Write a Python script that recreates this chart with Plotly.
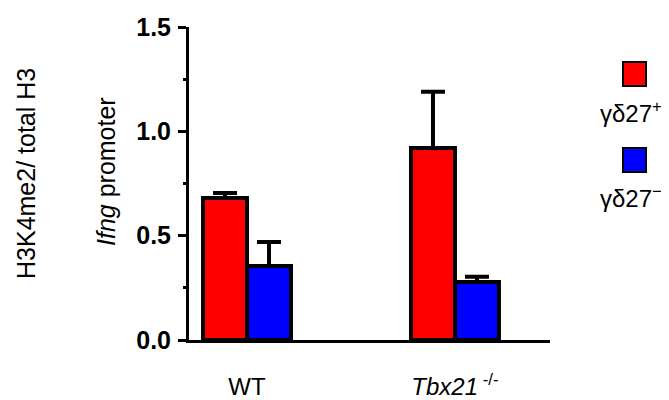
import plotly.graph_objects as go

# ---- data ----
groups = ["WT", "Tbx21"]
group_labels = ["WT", "<i>Tbx21</i><sup> -/-</sup>"]
series_names = ["γδ27<sup>+</sup>", "γδ27<sup>−</sup>"]
pos_values = [0.68, 0.92]
pos_errors = [0.025, 0.27]
neg_values = [0.355, 0.278]
neg_errors = [0.115, 0.025]
colors = ["#ff0000", "#0000ff"]
y_ticks = [0.0, 0.5, 1.0, 1.5]

FONT = "Liberation Sans, Arial, sans-serif"
x_pos = [0, 1]

# page body has an 8px default margin; figure coordinates are offset accordingly
OFF = 8
W, H = 661, 392
L, T = 189 - OFF, 27 - OFF
PW, PH = 361, 313
R = W - L - PW
B = H - T - PH

fig = go.Figure()
for vals, errs, col, name in [(pos_values, pos_errors, colors[0], series_names[0]),
                              (neg_values, neg_errors, colors[1], series_names[1])]:
    fig.add_trace(go.Bar(
        x=x_pos, y=vals, name=name,
        marker=dict(color=col, line=dict(color="black", width=4)),
        error_y=dict(type="data", array=errs, symmetric=False, arrayminus=[0, 0],
                     color="black", thickness=4, width=12),
        showlegend=False,
    ))

fig.update_layout(
    width=W, height=H,
    margin=dict(l=L, r=R, t=T, b=B, autoexpand=False),
    paper_bgcolor="white", plot_bgcolor="white",
    barmode="group", bargap=0.577, bargroupgap=0,
    font=dict(family=FONT, color="black"),
)

fig.update_xaxes(
    range=[-0.279, 1.457], tickvals=x_pos, ticktext=group_labels,
    showline=True, linecolor="black", linewidth=3, ticks="",
    showgrid=False, zeroline=False, automargin=False,
    tickfont=dict(size=24, family=FONT), ticklabelstandoff=23,
)
fig.update_yaxes(
    range=[0, 1.5], tickvals=y_ticks, ticktext=[f"{v:.1f}" for v in y_ticks],
    showline=True, linecolor="black", linewidth=3,
    ticks="outside", ticklen=8, tickwidth=3, tickcolor="black",
    minor=dict(dtick=0.25, ticks="outside", ticklen=3, tickwidth=3, tickcolor="black", showgrid=False),
    showgrid=False, zeroline=False, automargin=False,
    tickfont=dict(size=25, family=FONT, weight="bold"),
    ticklabelstandoff=2,
)

def px_x(px):
    return (px - 189) / 361.0

def px_y(py):
    return (340 - py) / 313.0

# axis titles
fig.add_annotation(xref="paper", yref="paper", x=px_x(26), y=px_y(174),
                   text="H3K4me2/ total H3", textangle=-90, showarrow=False,
                   font=dict(size=25, family=FONT), xanchor="center", yanchor="middle")
fig.add_annotation(xref="paper", yref="paper", x=px_x(106), y=px_y(172),
                   text="<i>Ifng</i> promoter", textangle=-90, showarrow=False,
                   font=dict(size=25, family=FONT), xanchor="center", yanchor="middle")

# custom legend (square above text)
leg_y = [(62, 86, 112), (148, 172, 197)]
for (t, b, ty), col, name in zip(leg_y, colors, series_names):
    fig.add_shape(type="rect", xref="paper", yref="paper",
                  x0=px_x(623), x1=px_x(646), y0=px_y(b), y1=px_y(t),
                  fillcolor=col, line=dict(color="black", width=2))
    fig.add_annotation(xref="paper", yref="paper", x=px_x(631), y=px_y(ty),
                       text=name, showarrow=False, font=dict(size=24, family=FONT),
                       xanchor="center", yanchor="middle")

fig.write_html("out.html")
